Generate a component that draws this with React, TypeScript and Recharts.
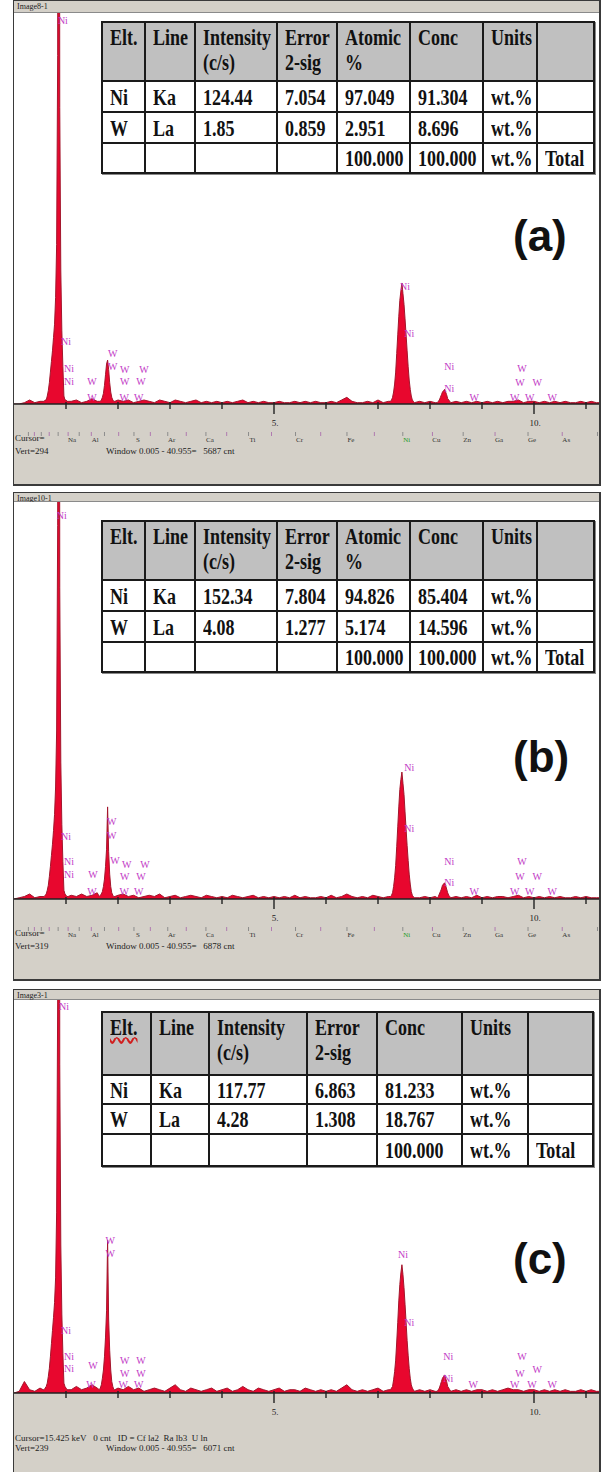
import React from 'react';
import { ComposedChart, Area, XAxis, YAxis, ReferenceDot } from 'recharts';

// energy channels (keV) — denser around the peaks
const energies = [
  0, 0.1, 0.2, 0.3, 0.4, 0.5,
  0.56, 0.58, 0.6, 0.62, 0.64, 0.66, 0.68, 0.7, 0.72, 0.74, 0.76, 0.78, 0.8, 0.82, 0.84, 0.86, 0.88, 0.9, 0.92, 0.94, 0.96, 0.98, 1.0, 1.02, 1.04,
  1.1, 1.2, 1.3, 1.4, 1.5, 1.6,
  1.64, 1.66, 1.68, 1.7, 1.72, 1.74, 1.76, 1.78, 1.8, 1.82, 1.84, 1.86, 1.88, 1.9, 1.92, 1.94,
  2.0, 2.1, 2.2, 2.3, 2.4, 2.5, 2.6, 2.7, 2.8, 2.9,
  3.0, 3.1, 3.2, 3.3, 3.4, 3.5, 3.6, 3.7, 3.8, 3.9,
  4.0, 4.1, 4.2, 4.3, 4.4, 4.5, 4.6, 4.7, 4.8, 4.9,
  5.0, 5.1, 5.2, 5.3, 5.4, 5.5, 5.6, 5.7, 5.8, 5.9,
  6.0, 6.1, 6.2, 6.3, 6.4, 6.5, 6.6, 6.7, 6.8, 6.9,
  7.0, 7.1, 7.2,
  7.24, 7.26, 7.28, 7.3, 7.32, 7.34, 7.36, 7.38, 7.4, 7.42, 7.44, 7.46, 7.48, 7.5, 7.52, 7.54, 7.56, 7.58, 7.6, 7.62, 7.64, 7.66, 7.68, 7.7,
  7.8, 7.9, 8.0, 8.1,
  8.14, 8.16, 8.18, 8.2, 8.22, 8.24, 8.26, 8.28, 8.3, 8.32, 8.34, 8.36, 8.38, 8.4,
  8.5, 8.6, 8.7, 8.8, 8.9, 9.0, 9.1, 9.2, 9.3, 9.4,
  9.5, 9.6, 9.7, 9.8, 9.9, 10.0, 10.1, 10.2, 10.3, 10.4,
  10.5, 10.6, 10.7, 10.8, 10.9, 11.0, 11.1, 11.2, 11.3,
];

const countsA = [
  0, 0, 1, 3, 1, 2,
  2, 2, 3, 3, 6, 10, 16, 24, 32, 40, 50, 60, 80, 120, 262, 1200, 223, 100, 55, 28, 6, 3, 3, 2, 2,
  2, 3, 1, 2, 4, 2,
  2, 2, 3, 5, 8, 14, 22, 30, 33, 26, 16, 9, 5, 3, 2, 2,
  3, 2, 3, 1, 2, 3, 2, 1, 3, 2,
  1, 3, 2, 1, 2, 3, 1, 2, 1, 2,
  1, 2, 1, 2, 3, 1, 2, 1, 2, 1,
  1, 2, 1, 1, 2, 1, 2, 1, 2, 1,
  1, 2, 1, 3, 5, 2, 1, 1, 2, 1,
  3, 1, 2,
  2, 3, 5, 9, 15, 24, 38, 52, 66, 78, 85, 91, 83, 75, 64, 52, 40, 28, 18, 11, 6, 3, 2, 1,
  2, 1, 2, 1,
  1, 2, 3, 5, 7, 9, 10, 11, 9, 7, 4, 3, 2, 1,
  2, 1, 2, 1, 2, 1, 2, 1, 2, 1,
  2, 2, 3, 1, 2, 2, 1, 2, 1, 2,
  1, 2, 1, 1, 2, 1, 2, 1, 1,
];

const countsB = [
  0, 1, 2, 4, 1, 2,
  2, 2, 3, 4, 7, 11, 18, 26, 35, 44, 55, 68, 90, 135, 300, 1300, 250, 110, 60, 30, 7, 4, 3, 2, 2,
  3, 2, 4, 2, 3, 5,
  2, 3, 4, 6, 10, 16, 26, 40, 74, 38, 20, 10, 5, 3, 2, 2,
  3, 4, 2, 3, 1, 2, 3, 2, 4, 1,
  2, 3, 1, 2, 3, 2, 1, 3, 2, 1,
  2, 1, 3, 2, 1, 2, 3, 1, 2, 1,
  2, 1, 2, 1, 3, 1, 2, 1, 1, 2,
  1, 3, 1, 2, 4, 2, 1, 2, 1, 3,
  2, 1, 2,
  2, 3, 5, 10, 17, 27, 42, 58, 74, 88, 96, 102, 93, 84, 70, 56, 43, 31, 20, 12, 6, 3, 2, 1,
  1, 2, 1, 2,
  1, 2, 4, 6, 8, 11, 12, 13, 11, 8, 5, 3, 2, 1,
  2, 1, 2, 1, 3, 1, 2, 1, 2, 2,
  1, 2, 3, 1, 2, 1, 2, 1, 2, 1,
  2, 1, 1, 2, 1, 2, 1, 1, 1,
];

const countsC = [
  0, 1, 7, 2, 1, 3,
  2, 2, 3, 4, 6, 10, 15, 22, 30, 38, 46, 55, 70, 110, 240, 1000, 200, 90, 48, 24, 6, 4, 3, 2, 2,
  2, 4, 2, 3, 5, 3,
  2, 3, 5, 9, 14, 22, 34, 50, 93, 45, 26, 14, 7, 4, 2, 2,
  3, 2, 4, 2, 3, 1, 2, 3, 2, 1,
  3, 5, 2, 1, 3, 2, 1, 2, 3, 1,
  2, 3, 1, 2, 4, 2, 1, 3, 2, 1,
  2, 3, 1, 2, 2, 1, 3, 2, 1, 2,
  1, 2, 1, 3, 5, 2, 1, 2, 1, 2,
  3, 1, 2,
  2, 3, 4, 8, 13, 20, 31, 43, 56, 66, 73, 78, 72, 64, 54, 43, 32, 23, 15, 9, 5, 3, 2, 1,
  2, 1, 2, 1,
  1, 2, 3, 5, 7, 9, 10, 11, 9, 7, 4, 3, 2, 1,
  2, 1, 2, 1, 2, 2, 1, 2, 1, 2,
  3, 2, 2, 1, 2, 2, 1, 2, 1, 2,
  1, 2, 1, 1, 2, 1, 2, 1, 1,
];

// peak identification markers: [keV, counts, element]
const idsA = [
  [0.94, 288, 'Ni'], [7.52, 88, 'Ni'], [7.6, 53, 'Ni'], [1.0, 47, 'Ni'], [1.06, 27, 'Ni'], [1.06, 17, 'Ni'],
  [1.5, 17, 'W'], [1.5, 5, 'W'], [1.9, 38, 'W'], [1.9, 28, 'W'], [2.13, 26, 'W'], [2.5, 26, 'W'],
  [2.13, 17, 'W'], [2.44, 17, 'W'], [2.12, 5, 'W'], [2.4, 5, 'W'],
  [8.37, 28, 'Ni'], [8.37, 12, 'Ni'], [8.85, 5, 'W'], [9.77, 27, 'W'], [9.73, 16, 'W'], [10.06, 16, 'W'],
  [9.63, 5, 'W'], [9.92, 5, 'W'], [10.35, 5, 'W'],
];
const idsB = [
  [0.92, 308, 'Ni'], [7.6, 106, 'Ni'], [7.6, 57, 'Ni'], [1.0, 50, 'Ni'], [1.06, 30, 'Ni'], [1.06, 20, 'Ni'],
  [1.52, 20, 'W'], [1.5, 6, 'W'], [1.88, 62, 'W'], [1.88, 51, 'W'], [1.94, 31, 'W'], [2.17, 28, 'W'], [2.52, 28, 'W'],
  [2.13, 18, 'W'], [2.44, 18, 'W'], [2.12, 6, 'W'], [2.4, 6, 'W'],
  [8.37, 30, 'Ni'], [8.37, 13, 'Ni'], [8.85, 6, 'W'], [9.77, 30, 'W'], [9.73, 18, 'W'], [10.06, 18, 'W'],
  [9.63, 6, 'W'], [9.92, 6, 'W'], [10.35, 6, 'W'],
];
const idsC = [
  [0.96, 235, 'Ni'], [1.85, 93, 'W'], [1.85, 85, 'W'], [7.48, 84, 'Ni'], [7.6, 43, 'Ni'],
  [1.0, 38, 'Ni'], [1.06, 22, 'Ni'], [1.06, 15, 'Ni'], [1.52, 17, 'W'],
  [2.13, 20, 'W'], [2.44, 20, 'W'], [2.13, 12, 'W'], [2.44, 12, 'W'],
  [1.48, 5, 'W'], [2.1, 5, 'W'], [2.4, 5, 'W'],
  [8.35, 22, 'Ni'], [8.35, 9, 'Ni'], [8.83, 5, 'W'], [9.77, 22, 'W'], [9.73, 12, 'W'], [10.06, 14, 'W'],
  [9.63, 5, 'W'], [9.96, 5, 'W'], [10.35, 5, 'W'],
];

// element K-line markers under the axis
const markerEnergies = [0.277, 0.392, 0.525, 0.677, 0.849, 1.041, 1.254, 1.487, 1.74, 2.013, 2.307, 2.622, 2.957, 3.313, 3.691, 4.09, 4.51, 4.952, 5.414, 5.898, 6.403, 6.93, 7.477, 8.047, 8.638, 9.251, 9.885, 10.543, 11.221];
const markerNames = ['', '', '', '', '', 'Na', '', 'Al', '', '', 'S', '', 'Ar', '', 'Ca', '', 'Ti', '', 'Cr', '', 'Fe', '', 'Ni', 'Cu', 'Zn', 'Ga', 'Ge', 'As', ''];

const keVTicks = [1, 2, 3, 4, 5, 6, 7, 8, 9, 10, 11];

const headAB = [['Elt.'], ['Line'], ['Intensity', '(c/s)'], ['Error', '2-sig'], ['Atomic', '%'], ['Conc'], ['Units'], ['']];
const rowsA = [
  ['Ni', 'Ka', '124.44', '7.054', '97.049', '91.304', 'wt.%', ''],
  ['W', 'La', '1.85', '0.859', '2.951', '8.696', 'wt.%', ''],
  ['', '', '', '', '100.000', '100.000', 'wt.%', 'Total'],
];
const rowsB = [
  ['Ni', 'Ka', '152.34', '7.804', '94.826', '85.404', 'wt.%', ''],
  ['W', 'La', '4.08', '1.277', '5.174', '14.596', 'wt.%', ''],
  ['', '', '', '', '100.000', '100.000', 'wt.%', 'Total'],
];
const headC = [['Elt.'], ['Line'], ['Intensity', '(c/s)'], ['Error', '2-sig'], ['Conc'], ['Units'], ['']];
const rowsC = [
  ['Ni', 'Ka', '117.77', '6.863', '81.233', 'wt.%', ''],
  ['W', 'La', '4.28', '1.308', '18.767', 'wt.%', ''],
  ['', '', '', '', '100.000', 'wt.%', 'Total'],
];

const XMAX = 11.25;
const CHART_W = 585;
const GRAY = '#d4d0c8';
const SERIF = '"Liberation Serif", "Times New Roman", serif';

function KevTick({ x, y, payload }: any) {
  const v = payload.value;
  const major = v === 5 || v === 10;
  return (
    <g>
      <line x1={x} x2={x} y1={y - 2} y2={y + (major ? 10 : 5)} stroke="#222" strokeWidth={1.4} />
      {major && (
        <text x={x + 1} y={y + 22} textAnchor="middle" fontSize={9} fontFamily={SERIF} fill="#222">
          {v}.
        </text>
      )}
    </g>
  );
}

function MarkerTick({ x, y, payload }: any) {
  const i = markerEnergies.indexOf(payload.value);
  const name = markerNames[i];
  return (
    <g>
      <line x1={x} x2={x} y1={y + 2} y2={y + 6} stroke={i % 2 ? '#b07ab0' : '#8c8c8c'} strokeWidth={1} />
      {name && (
        <text x={x + 4} y={y + 12} textAnchor="middle" fontSize={7} fontFamily={SERIF} fill={name === 'Ni' ? '#1f9a1f' : '#333'}>
          {name}
        </text>
      )}
    </g>
  );
}

function Spectrum({ counts, vert, ids, plotH, markers }: any) {
  const data = energies.map((e, i) => ({ e, c: counts[i] }));
  const axisH = 26;
  const markH = markers ? 20 : 0;
  return (
    <ComposedChart width={CHART_W} height={plotH + axisH + markH} data={data} margin={{ top: 0, right: 0, bottom: 0, left: 0 }}>
      <XAxis
        dataKey="e"
        type="number"
        domain={[0, XMAX]}
        ticks={keVTicks}
        interval={0}
        allowDataOverflow
        height={axisH}
        tickSize={0}
        tickMargin={0}
        axisLine={{ stroke: '#222', strokeWidth: 1.5 }}
        tickLine={false}
        tick={<KevTick />}
      />
      {markers && (
        <XAxis
          xAxisId="el"
          dataKey="e"
          type="number"
          domain={[0, XMAX]}
          ticks={markerEnergies}
          interval={0}
          allowDataOverflow
          height={markH}
          tickSize={0}
          tickMargin={0}
          axisLine={false}
          tickLine={false}
          tick={<MarkerTick />}
        />
      )}
      <YAxis hide domain={[0, vert]} allowDataOverflow />
      <Area
        type="linear"
        dataKey="c"
        stroke="#a3162c"
        strokeWidth={1}
        fill="#e8072e"
        fillOpacity={1}
        isAnimationActive={false}
      />
      {ids.map((d: any, i: number) => (
        <ReferenceDot
          key={i}
          x={d[0]}
          y={d[1]}
          r={0}
          ifOverflow="visible"
          shape={(p: any) => (
            <text x={p.cx} y={p.cy} dy="0.35em" textAnchor="middle" fontSize={10} fontFamily={SERIF} fill="#c23ac6">
              {d[2]}
            </text>
          )}
        />
      ))}
    </ComposedChart>
  );
}

function ResultTable({ left, top, widths, heights, head, rows, wavy }: any) {
  const total = widths.reduce((s: number, w: number) => s + w, 0);
  const txt = (s: string, k: number, deco?: boolean) => (
    <span
      key={k}
      style={{
        display: 'inline-block',
        transform: 'scaleY(1.3)',
        textDecoration: deco ? 'underline wavy #d02020' : 'none',
      }}
    >
      {s || '\u00a0'}
    </span>
  );
  const cell = { border: '2px solid #1a1a1a', padding: '0 0 0 7px', overflow: 'hidden', whiteSpace: 'nowrap' as const };
  return (
    <table
      style={{
        position: 'absolute',
        left,
        top,
        width: total,
        borderCollapse: 'collapse',
        tableLayout: 'fixed',
        fontFamily: SERIF,
        fontWeight: 700,
        fontSize: 18,
        color: '#111',
        background: '#fff',
        boxShadow: '1px 1px 0 #888',
      }}
    >
      <colgroup>
        {widths.map((w: number, i: number) => (
          <col key={i} style={{ width: w }} />
        ))}
      </colgroup>
      <tbody>
        <tr style={{ height: heights[0], background: '#c0c0c0' }}>
          {head.map((h: string[], i: number) => (
            <td key={i} style={{ ...cell, verticalAlign: 'top', paddingTop: 2, lineHeight: '25px' }}>
              {h.map((s, k) => (
                <div key={k}>{txt(s, k, wavy && i === 0)}</div>
              ))}
            </td>
          ))}
        </tr>
        {rows.map((r: string[], j: number) => (
          <tr key={j} style={{ height: heights[j + 1] }}>
            {r.map((s, i) => (
              <td key={i} style={{ ...cell, verticalAlign: 'middle', lineHeight: '20px' }}>
                {txt(s, i)}
              </td>
            ))}
          </tr>
        ))}
      </tbody>
    </table>
  );
}

function Panel({ p }: any) {
  const plotH = p.axisY - p.titleBottom;
  const small = { position: 'absolute' as const, fontFamily: SERIF, fontSize: 9, color: '#222', whiteSpace: 'pre' as const, lineHeight: '10px' };
  return (
    <>
      <div
        style={{
          position: 'absolute',
          left: 13,
          top: p.frameTop,
          width: 588,
          height: p.frameBottom - p.frameTop,
          boxSizing: 'border-box',
          border: '1px solid #3a3a3a',
          borderRightWidth: 2,
          borderBottomWidth: 2,
          background: GRAY,
        }}
      />
      <div
        style={{
          position: 'absolute',
          left: 14,
          top: p.frameTop + 1,
          width: 585,
          height: p.titleBottom - p.frameTop - 2,
          borderBottom: '1px solid #8a8a8a',
          background: GRAY,
        }}
      >
        <span style={{ ...small, left: 3, top: 1, fontSize: 8 }}>{p.title}</span>
      </div>
      <div style={{ position: 'absolute', left: 14, top: p.titleBottom, width: 585, height: plotH, background: '#fff' }} />
      <div style={{ position: 'absolute', left: 14, top: p.titleBottom }}>
        <Spectrum counts={p.counts} vert={p.vert} ids={p.ids} plotH={plotH} markers={p.markers} />
      </div>
      <span style={{ ...small, left: 15, top: p.axisY + p.cursorDy - 5 }}>{p.cursor}</span>
      <span style={{ ...small, left: 15, top: p.axisY + p.vertDy - 5 }}>Vert={p.vert}</span>
      <span style={{ ...small, left: 106, top: p.axisY + p.vertDy - 5 }}>{'Window 0.005 - 40.955=   ' + p.cnt + ' cnt'}</span>
      <ResultTable {...p.table} />
      <div
        style={{
          position: 'absolute',
          left: 513,
          top: p.tagY - 25,
          fontFamily: '"Liberation Sans", Arial, sans-serif',
          fontWeight: 700,
          fontSize: 44,
          lineHeight: '44px',
          color: '#111',
        }}
      >
        {p.tag}
      </div>
    </>
  );
}

const panels = [
  {
    frameTop: 0, titleBottom: 13, axisY: 404, frameBottom: 486, title: 'Image8-1',
    counts: countsA, vert: 294, ids: idsA, markers: true, cursor: 'Cursor=', cursorDy: 34, vertDy: 47, cnt: 5687,
    tag: '(a)', tagY: 239,
    table: { left: 101, top: 21, widths: [43, 50, 82, 60, 73, 73, 54, 57], heights: [59, 31, 31, 30], head: headAB, rows: rowsA },
  },
  {
    frameTop: 492, titleBottom: 502, axisY: 899, frameBottom: 981, title: 'Image10-1',
    counts: countsB, vert: 319, ids: idsB, markers: true, cursor: 'Cursor=', cursorDy: 34, vertDy: 47, cnt: 6878,
    tag: '(b)', tagY: 760,
    table: { left: 101, top: 520, widths: [43, 50, 82, 60, 73, 73, 54, 57], heights: [59, 31, 31, 30], head: headAB, rows: rowsB },
  },
  {
    frameTop: 989, titleBottom: 1000, axisY: 1393, frameBottom: 1478, title: 'Image3-1',
    counts: countsC, vert: 239, ids: idsC, markers: false,
    cursor: 'Cursor=15.425 keV   0 cnt   ID = Cf la2  Ra lb3  U ln', cursorDy: 45, vertDy: 55, cnt: 6071,
    tag: '(c)', tagY: 1262,
    table: { left: 101, top: 1011, widths: [49, 58, 98, 70, 85, 66, 65], heights: [63, 29, 30, 32], head: headC, rows: rowsC, wavy: true },
  },
];

export default function App() {
  return (
    <div style={{ position: 'relative', width: 605, height: 1472, background: '#fff', overflow: 'hidden', fontFamily: SERIF }}>
      <style>{'body{margin:0}'}</style>
      {panels.map((p, i) => (
        <Panel key={i} p={p} />
      ))}
    </div>
  );
}
